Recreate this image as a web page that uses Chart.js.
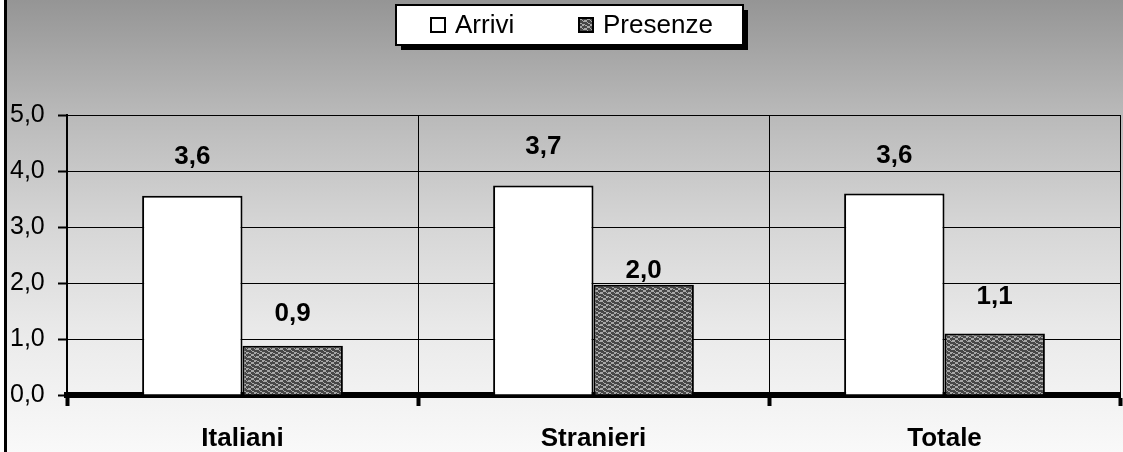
<!DOCTYPE html>
<html>
<head>
<meta charset="utf-8">
<script src="https://cdn.jsdelivr.net/npm/chart.js@4"></script>
<style>
  html, body { margin: 0; padding: 0; background: #fff; }
  #wrap { width: 1123px; height: 452px; position: relative; }
</style>
</head>
<body>
<div id="wrap"><canvas id="c" width="1123" height="452"></canvas></div>
<script>
const categories = ['Italiani', 'Stranieri', 'Totale'];
const seriesNames = ['Arrivi', 'Presenze'];
const arrivi = [3.56, 3.74, 3.6];
const presenze = [0.88, 1.97, 1.1];
const yTicks = [0, 1, 2, 3, 4, 5];

const FONT = '"Liberation Sans", Arial, sans-serif';

function makePattern() {
  const p = document.createElement('canvas');
  p.width = 8; p.height = 8;
  const g = p.getContext('2d');
  g.fillStyle = '#474747';
  g.fillRect(0, 0, 8, 8);
  g.fillStyle = '#a8a8a8';
  const pts = [[0,0],[1,1],[2,1],[3,2],[4,3],[5,3],[6,4],[7,5],[0,4],[1,5],[2,5],[3,6],[4,7],[5,7],[6,0],[7,1],
               [7,0],[6,1],[5,2],[4,2],[3,3],[2,4],[1,4],[0,5]];
  pts.forEach(([x,y]) => g.fillRect(x, y, 1, 1));
  return g.createPattern(p, 'repeat');
}

const bgPlugin = {
  id: 'bg',
  beforeDraw(chart) {
    const { ctx, width, height } = chart;
    ctx.save();
    const grad = ctx.createLinearGradient(0, 0, 0, height);
    grad.addColorStop(0, '#959595');
    grad.addColorStop(0.25, '#b9b9b9');
    grad.addColorStop(0.5, '#d6d6d6');
    grad.addColorStop(0.75, '#ebebeb');
    grad.addColorStop(1, '#f9f9f9');
    ctx.fillStyle = grad;
    ctx.fillRect(0, 0, width, height);
    ctx.fillStyle = '#ffffff';
    ctx.fillRect(0, 0, 4, height);
    ctx.fillStyle = '#000';
    ctx.fillRect(4, 0, 3, height);
    ctx.restore();
  }
};

const legendPlugin = {
  id: 'boxLegend',
  afterDraw(chart) {
    const { ctx } = chart;
    const x0 = 396, y0 = 5, w = 347, h = 40;
    ctx.save();
    ctx.fillStyle = '#000';
    ctx.fillRect(x0 + 5, y0 + 5, w, h);
    ctx.fillStyle = '#fff';
    ctx.fillRect(x0, y0, w, h);
    ctx.lineWidth = 2;
    ctx.strokeStyle = '#000';
    ctx.strokeRect(x0, y0, w, h);
    const items = [
      { sx: 431, tx: 455, ds: chart.data.datasets[0] },
      { sx: 579, tx: 603, ds: chart.data.datasets[1] }
    ];
    ctx.font = '26px ' + FONT;
    ctx.textBaseline = 'middle';
    ctx.textAlign = 'left';
    items.forEach(it => {
      ctx.fillStyle = it.ds.backgroundColor;
      ctx.fillRect(it.sx, 18, 14, 14);
      ctx.lineWidth = 2;
      ctx.strokeStyle = '#000';
      ctx.strokeRect(it.sx, 18, 14, 14);
      ctx.fillStyle = '#000';
      ctx.fillText(it.ds.label, it.tx, 26);
    });
    ctx.restore();
  }
};

const valueLabels = {
  id: 'valueLabels',
  afterDatasetsDraw(chart, args, opts) {
    const { ctx } = chart;
    ctx.save();
    ctx.font = 'bold 26px ' + FONT;
    ctx.fillStyle = '#000';
    ctx.textAlign = 'center';
    ctx.textBaseline = 'middle';
    chart.data.datasets.forEach((ds, di) => {
      chart.getDatasetMeta(di).data.forEach((bar, i) => {
        const txt = ds.data[i].toFixed(1).replace('.', ',');
        const gap = (opts.gaps && opts.gaps[di] && opts.gaps[di][i]) || 38;
        ctx.fillText(txt, bar.x, bar.y - gap);
      });
    });
    ctx.restore();
  }
};

const pattern = makePattern();

new Chart(document.getElementById('c'), {
  type: 'bar',
  data: {
    labels: categories,
    datasets: [
      { label: seriesNames[0], data: arrivi, backgroundColor: '#ffffff', borderColor: '#000', borderWidth: 2, borderSkipped: 'bottom' },
      { label: seriesNames[1], data: presenze, backgroundColor: pattern, borderColor: '#000', borderWidth: 2, borderSkipped: 'bottom' }
    ]
  },
  options: {
    responsive: false,
    animation: false,
    layout: { padding: { left: 10, right: 3, top: 115, bottom: 0 } },
    plugins: {
      legend: { display: false },
      tooltip: { enabled: false },
      valueLabels: { gaps: [[39, 39, 38], [32, 14, 37]] }
    },
    datasets: { bar: { categoryPercentage: 0.572, barPercentage: 1.0 } },
    scales: {
      x: {
        afterFit(s) { s.height = 57; },
        grid: { display: true, offset: true, color: '#000', lineWidth: 1, tickLength: 11, tickWidth: 4, tickColor: '#000', drawOnChartArea: true },
        border: { display: true, color: '#000', width: 6 },
        ticks: { color: '#000', font: { family: FONT, size: 26, weight: 'bold' }, padding: 17 }
      },
      y: {
        min: 0, max: 5,
        afterFit(s) { s.width = 57; },
        afterBuildTicks(s) { s.ticks = yTicks.map(v => ({ value: v })); },
        grid: { color: '#000', lineWidth: 1, tickLength: 9, tickWidth: 2, tickColor: '#000' },
        border: { display: true, color: '#000', width: 2 },
        ticks: {
          color: '#000', font: { family: FONT, size: 25 }, crossAlign: 'far', padding: 4,
          callback: v => v.toFixed(1).replace('.', ',')
        }
      }
    }
  },
  plugins: [bgPlugin, legendPlugin, valueLabels]
});
</script>
</body>
</html>
